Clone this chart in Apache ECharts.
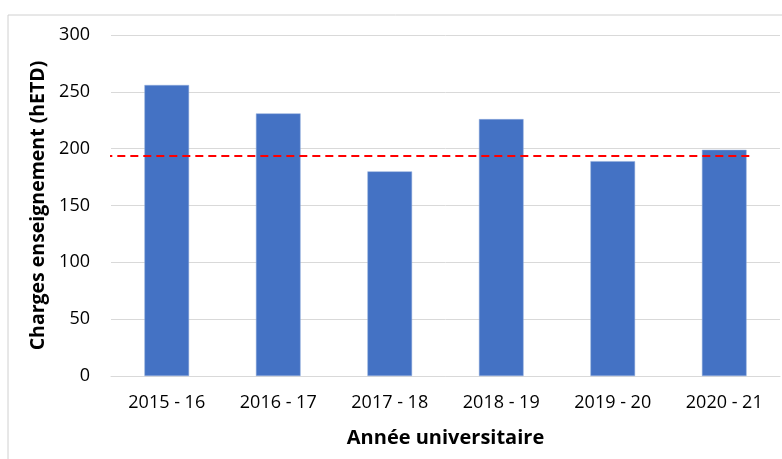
<!DOCTYPE html>
<html lang="fr">
<head>
    <meta charset="UTF-8">
    <title>Charges enseignement</title>
    <script src="https://cdn.jsdelivr.net/npm/echarts@6/dist/echarts.min.js"></script>
    <style>
        html, body { margin: 0; padding: 0; background: #fff; }
        #main { width: 782px; height: 459px; }
    </style>
</head>
<body>
    <div id="main"></div>
    <script>
        // data
        var years = ['2015 - 16', '2016 - 17', '2017 - 18', '2018 - 19', '2019 - 20', '2020 - 21'];
        var charges = [256, 231, 180, 226, 189, 199];
        var moyenne = 193.5;
        // dashed reference line, start/end along a 0..6 helper axis
        var refLineX = [-0.06, 5.76];

        var font = 'Open Sans, sans-serif';
        var chart = echarts.init(document.getElementById('main'));

        chart.setOption({
            animation: false,
            graphic: [{
                type: 'rect',
                shape: { x: 8, y: 15, width: 800, height: 500 },
                style: { fill: 'none', stroke: '#d0d0d0', lineWidth: 1 },
                silent: true
            }],
            grid: { left: 111, right: 2, top: 35, bottom: 83 },
            xAxis: [{
                type: 'category',
                data: years,
                name: 'Année universitaire',
                nameLocation: 'middle',
                nameGap: 52,
                nameTextStyle: { fontFamily: font, fontSize: 20, fontWeight: 'bold', color: '#000' },
                axisLine: { lineStyle: { color: '#d9d9d9', width: 1 } },
                axisTick: { show: false },
                axisLabel: { fontFamily: font, fontSize: 18, color: '#000', margin: 18, interval: 0 }
            }, {
                type: 'value',
                min: 0,
                max: 6,
                show: false
            }],
            yAxis: {
                type: 'value',
                min: 0,
                max: 300,
                interval: 50,
                name: 'Charges enseignement (hETD)',
                nameLocation: 'middle',
                nameGap: 55,
                nameTextStyle: { fontFamily: font, fontSize: 19.5, fontWeight: 'bold', color: '#000' },
                axisLine: { show: false },
                axisTick: { show: false },
                axisLabel: { fontFamily: font, fontSize: 18, color: '#000', margin: 21 },
                splitLine: { lineStyle: { color: '#d9d9d9', width: 1 } }
            },
            series: [{
                type: 'bar',
                data: charges,
                barWidth: '40%',
                itemStyle: { color: '#4472c4', borderColor: '#8eaadb', borderWidth: 0.5 }
            }, {
                type: 'line',
                xAxisIndex: 1,
                data: refLineX.map(function (x) { return [x, moyenne]; }),
                symbol: 'none',
                clip: false,
                lineStyle: { color: '#ff0000', width: 2, type: [8, 5] }
            }]
        });
    </script>
</body>
</html>
